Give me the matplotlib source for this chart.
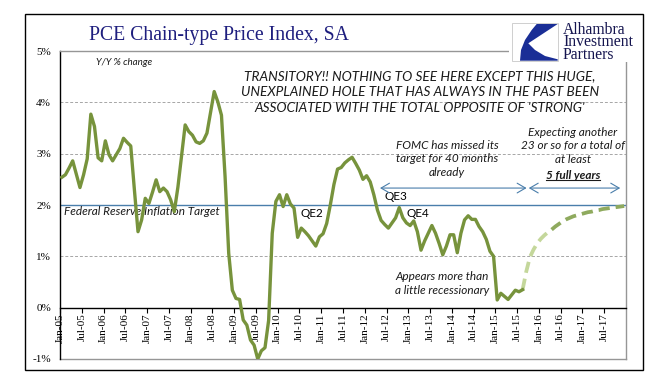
import matplotlib
matplotlib.use("Agg")
import matplotlib.pyplot as plt
from matplotlib.patches import Rectangle, Polygon
from matplotlib.lines import Line2D

W, H = 671, 375

# monthly Y/Y % change, Jan-05 .. Aug-15
pce_yoy = [
    2.54, 2.59, 2.72, 2.86, 2.60, 2.34, 2.59, 2.90, 3.77, 3.53, 2.92, 2.86,   # 2005
    3.25, 2.98, 2.86, 2.98, 3.10, 3.30, 3.22, 3.15, 2.30, 1.48, 1.71, 2.13,   # 2006
    2.03, 2.25, 2.49, 2.26, 2.33, 2.26, 2.10, 1.87, 2.35, 2.95, 3.56, 3.43,   # 2007
    3.36, 3.23, 3.20, 3.25, 3.40, 3.80, 4.21, 4.01, 3.75, 2.55, 1.06, 0.34,   # 2008
    0.18, 0.16, -0.24, -0.34, -0.63, -0.73, -1.00, -0.84, -0.78, -0.25, 1.45, 2.07,  # 2009
    2.20, 1.97, 2.20, 2.02, 1.94, 1.37, 1.55, 1.48, 1.40, 1.30, 1.20, 1.38,   # 2010
    1.44, 1.64, 2.00, 2.40, 2.70, 2.73, 2.82, 2.88, 2.93, 2.81, 2.68, 2.50,   # 2011
    2.57, 2.45, 2.20, 1.90, 1.70, 1.62, 1.55, 1.65, 1.75, 1.95, 1.75, 1.65,   # 2012
    1.60, 1.69, 1.48, 1.12, 1.30, 1.45, 1.60, 1.45, 1.25, 1.03, 1.20, 1.42,   # 2013
    1.42, 1.07, 1.45, 1.71, 1.79, 1.72, 1.72, 1.58, 1.48, 1.33, 1.10, 1.00,   # 2014
    0.15, 0.28, 0.22, 0.16, 0.25, 0.34, 0.31, 0.35,                           # 2015
]

# projected path back toward target
proj_near_start = 127
proj_near = [0.35, 0.70, 0.98, 1.13, 1.25, 1.34, 1.41, 1.47, 1.52]
proj_far_start = 135
proj_far = [1.52, 1.58, 1.63, 1.68, 1.72, 1.75, 1.78, 1.80, 1.82, 1.84, 1.86,
            1.87, 1.89, 1.90, 1.92, 1.93, 1.94, 1.95, 1.96, 1.97, 1.98]

n_months = 156
tick_labels = [f"{m}-{y:02d}" for y in range(5, 18) for m in ("Jan", "Jul")]
fed_target = 2.0
missed_span = (88.2, 128.6)
expect_span = (129.2, 154.4)
arrow_level = 2.33

line_green = "#77933C"
light_green = "#C4D79B"
dash_green = "#8FAA5E"
steel = "#4A7EAB"
grid_grey = "#A6A6A6"
navy = "#1E1E7E"

fig = plt.figure(figsize=(W / 100, H / 100), dpi=100)
ax = fig.add_axes([60 / W, 1 - 359 / H, 566 / W, 308 / H])

xs = [i + 0.5 for i in range(len(pce_yoy))]
ax.plot(xs, pce_yoy, color=line_green, lw=2.4, zorder=5, solid_joinstyle="round")
ax.plot([proj_near_start + i + 0.5 for i in range(len(proj_near))], proj_near,
        color=light_green, lw=2.7, dashes=(3, 1.6), zorder=4)
ax.plot([proj_far_start + i + 0.5 for i in range(len(proj_far))], proj_far,
        color=dash_green, lw=2.7, dashes=(3, 1.6), zorder=4)

ax.set_xlim(0, n_months)
ax.set_ylim(-1, 5)

for v in (1, 3, 4):
    ax.axhline(v, color=grid_grey, lw=0.7, dashes=(3, 2), zorder=1)
ax.axhline(fed_target, color=steel, lw=1.0, zorder=2)
ax.axhline(-1, color="#969696", lw=1.0, clip_on=False, zorder=2)

ax.spines["bottom"].set_position(("data", 0))
ax.spines["left"].set_color("black")
ax.spines["bottom"].set_color("black")
ax.spines["top"].set_color("#969696")
ax.spines["right"].set_color("#969696")
for s in ax.spines.values():
    s.set_linewidth(1.0)

ax.set_xticks(range(0, n_months, 6))
ax.set_xticklabels(tick_labels, rotation=90, fontsize=8, family="Liberation Serif")
ax.tick_params(axis="x", direction="out", length=3.6, width=0.8, pad=0.5)
ax.set_yticks(range(-1, 6))
ax.set_yticklabels([f"{v}%" for v in range(-1, 6)], fontsize=8, family="Liberation Serif")
ax.tick_params(axis="y", length=0, pad=6.5)

# annotations
ital = dict(family="Lato", style="italic", color="#1a1a1a")
ax.text(0.063, 0.955, "Y/Y % change", transform=ax.transAxes, fontsize=7, **ital)
ax.text(1.2, 1.88, "Federal Reserve Inflation Target", fontsize=8.5, va="center", **ital)
ax.text(69.5, 1.83, "QE2", fontsize=8.5, family="Lato", ha="center", va="center")
ax.text(92.5, 2.16, "QE3", fontsize=8.5, family="Lato", ha="center", va="center")
ax.text(98.5, 1.83, "QE4", fontsize=8.5, family="Lato", ha="center", va="center")

fig.text(420 / W, 1 - 92 / H,
         "TRANSITORY!! NOTHING TO SEE HERE EXCEPT THIS HUGE,\n"
         "UNEXPLAINED HOLE THAT HAS ALWAYS IN THE PAST BEEN\n"
         "ASSOCIATED WITH THE TOTAL OPPOSITE OF 'STRONG'",
         ha="center", va="center", fontsize=9.8, linespacing=1.35, **ital)
fig.text(447 / W, 1 - 159 / H, "FOMC has missed its\ntarget for 40 months\nalready",
         ha="center", va="center", fontsize=8.5, linespacing=1.25, **ital)
fig.text(573 / W, 1 - 146 / H, "Expecting another\n23 or so for a total of\nat least",
         ha="center", va="center", fontsize=8.5, linespacing=1.25, **ital)
full = fig.text(573 / W, 1 - 175.5 / H, "5 full years", ha="center", va="center",
                fontsize=8.5, weight="bold", **ital)
fig.text(442 / W, 1 - 283.5 / H, "Appears more than\na little recessionary",
         ha="center", va="center", fontsize=8.5, linespacing=1.25, **ital)

arrow = dict(arrowstyle="<->,head_length=0.6,head_width=0.35", color=steel, lw=0.8,
             mutation_scale=10, shrinkA=0, shrinkB=0)
ax.annotate("", xy=(missed_span[0], arrow_level), xytext=(missed_span[1], arrow_level),
            arrowprops=arrow)
ax.annotate("", xy=(expect_span[0], arrow_level), xytext=(expect_span[1], arrow_level),
            arrowprops=arrow)

# title and logo
fig.text(218.5 / W, 1 - 40 / H, "PCE Chain-type Price Index, SA", ha="center", va="baseline",
         fontsize=14.2, family="Liberation Serif", color=navy)

fig.add_artist(Rectangle((509 / W, 1 - 61.5 / H), 133 / W, 46.5 / H, transform=fig.transFigure,
                         facecolor="white", edgecolor="none", zorder=3))
fig.add_artist(Rectangle((512.3 / W, 1 - 60.7 / H), 45.7 / W, 37.4 / H,
                         transform=fig.transFigure, facecolor="white", edgecolor="#C8C8C8",
                         lw=0.6, zorder=4))
swoosh = [(536.7, 24), (557.7, 24), (528.3, 43.3), (535, 50), (545, 56), (557.7, 59.3),
          (557.7, 60.7), (520, 60.7), (521, 50), (525, 40), (531.7, 30)]
fig.add_artist(Polygon([(x / W, 1 - y / H) for x, y in swoosh], closed=True,
                       transform=fig.transFigure, facecolor="#1A2E96", edgecolor="none",
                       zorder=5))
fig.text(563 / W, 1 - 42.5 / H, "Alhambra\nInvestment\nPartners", ha="left", va="center",
         fontsize=11.3, linespacing=0.68, family="Liberation Serif", color="#14144F", zorder=6)

# outer frame
fig.add_artist(Rectangle((25 / W, 1 - 370 / H), 618 / W, 356 / H, transform=fig.transFigure,
                         facecolor="none", edgecolor="black", lw=1.0, zorder=7))

# underline for "5 full years"
fig.canvas.draw()
bb = full.get_window_extent(fig.canvas.get_renderer()).transformed(fig.transFigure.inverted())
fig.add_artist(Line2D([bb.x0, bb.x1], [bb.y0 + 0.003, bb.y0 + 0.003], transform=fig.transFigure,
                      color="#1a1a1a", lw=0.8))

fig.savefig("out.png", dpi=100)
